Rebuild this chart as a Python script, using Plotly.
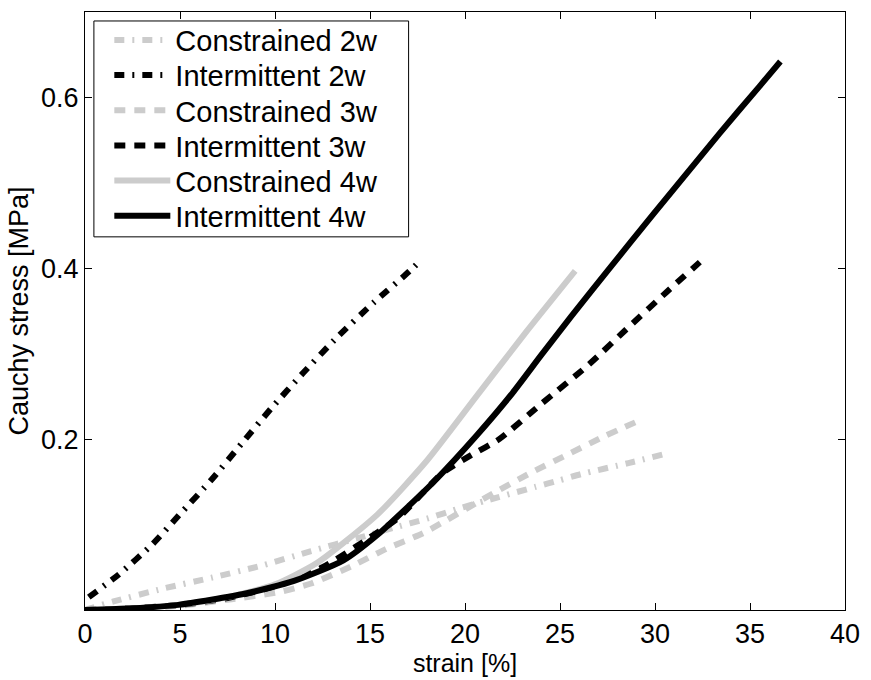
import plotly.graph_objects as go

# ---- data (strain in %, Cauchy stress in MPa) ----
c2w_x = [0, 1.5, 4.1, 6.7, 9.3, 11.9, 14.5, 16.2, 18.0, 19.7, 21.1, 23.7, 25.0, 26.1, 28.6, 30.4]
c2w_y = [0, 0.010, 0.025, 0.038, 0.052, 0.069, 0.085, 0.096, 0.107, 0.119, 0.128, 0.144, 0.152, 0.159, 0.172, 0.182]

i2w_x = [0.2, 1.8, 3.55, 4.95, 6.68, 8.25, 9.8, 11.5, 13.3, 15.2, 17.1, 17.6]
i2w_y = [0.015, 0.042, 0.077, 0.111, 0.153, 0.195, 0.236, 0.278, 0.320, 0.360, 0.397, 0.408]

c3w_x = [0, 2.5, 5, 7.5, 10.2, 11.9, 14.1, 15.8, 17.8, 18.7, 21.6, 23.5, 25.4, 27.3, 29.4]
c3w_y = [0, 0.001, 0.005, 0.012, 0.021, 0.031, 0.052, 0.071, 0.090, 0.101, 0.138, 0.161, 0.182, 0.203, 0.224]

i3w_x = [0, 2.5, 5, 7.5, 10, 12.5, 15, 16.5, 18.8, 20.3, 21.8, 24.0, 26.5, 28.7, 30.6, 32.7]
i3w_y = [0, 0.002, 0.006, 0.014, 0.028, 0.050, 0.085, 0.108, 0.160, 0.181, 0.200, 0.241, 0.287, 0.333, 0.372, 0.414]

c4w_x = [0, 2.5, 5, 7.5, 10, 12.2, 15.4, 18.0, 20.6, 23.2, 25.8]
c4w_y = [0, 0.002, 0.006, 0.015, 0.030, 0.055, 0.112, 0.175, 0.250, 0.325, 0.397]

i4w_x = [0, 2.5, 4.9, 8.4, 11.0, 13.6, 15.4, 17.1, 18.4, 20.6, 22.5, 24.0, 25.6, 27.5, 29.9, 33.4, 35.5, 36.6]
i4w_y = [0, 0.002, 0.006, 0.019, 0.034, 0.058, 0.088, 0.123, 0.151, 0.204, 0.254, 0.298, 0.344, 0.397, 0.463, 0.558, 0.613, 0.642]

x_ticks = [0, 5, 10, 15, 20, 25, 30, 35, 40]
y_ticks = [0.2, 0.4, 0.6]
y_tick_text = ["0.2", "0.4", "0.6"]

GRAY = "#cccccc"
BLACK = "#000000"
DASHDOT = "10px,8px,2px,8px"
DASHED = "11px,9px"

series = [
    ("Constrained 2w", c2w_x, c2w_y, GRAY, DASHDOT),
    ("Intermittent 2w", i2w_x, i2w_y, BLACK, DASHDOT),
    ("Constrained 3w", c3w_x, c3w_y, GRAY, DASHED),
    ("Intermittent 3w", i3w_x, i3w_y, BLACK, DASHED),
    ("Constrained 4w", c4w_x, c4w_y, GRAY, "solid"),
    ("Intermittent 4w", i4w_x, i4w_y, BLACK, "solid"),
]

FONT = "Liberation Sans, Arial, Helvetica, sans-serif"

fig = go.Figure()
legend_layout = {}
for i, (name, xs, ys, col, dash) in enumerate(series):
    key = "legend" if i == 0 else f"legend{i + 1}"
    fig.add_trace(go.Scatter(x=xs, y=ys, mode="lines", name=name, legend=key,
                             line=dict(color=col, width=6, dash=dash,
                                       shape="spline", smoothing=0.6)))
    legend_layout[key] = dict(
        x=0.032, y=0.953 - i * 0.0588, xanchor="left", yanchor="middle",
        bgcolor="rgba(0,0,0,0)", borderwidth=0,
        font=dict(family=FONT, size=29, color="black"),
        itemwidth=56)

# legend frame
fig.add_shape(type="rect", xref="paper", yref="paper",
              x0=0.0117, x1=0.4258, y0=0.624, y1=0.985,
              line=dict(color="black", width=1), fillcolor="white", layer="above")

fig.update_layout(
    width=871, height=680,
    margin=dict(l=85, r=18, t=11, b=60),
    paper_bgcolor="white", plot_bgcolor="white",
    font=dict(family=FONT, size=27, color="black"),
    showlegend=True,
    xaxis=dict(range=[0, 40], tickvals=x_ticks, ticks="inside", ticklen=7,
               tickwidth=1, tickcolor="black", showline=True, linecolor="black",
               linewidth=1, mirror="ticks", showgrid=False, zeroline=False,
               title=dict(text="strain [%]", standoff=2,
                          font=dict(family=FONT, size=25))),
    yaxis=dict(range=[0, 0.7], tickvals=y_ticks, ticktext=y_tick_text,
               ticks="inside", ticklen=7, tickwidth=1, tickcolor="black",
               showline=True, linecolor="black", linewidth=1, mirror="ticks",
               showgrid=False, zeroline=False,
               title=dict(text="Cauchy stress [MPa]", standoff=4,
                          font=dict(family=FONT, size=27))),
    **legend_layout,
)

fig.write_html("out.html")
